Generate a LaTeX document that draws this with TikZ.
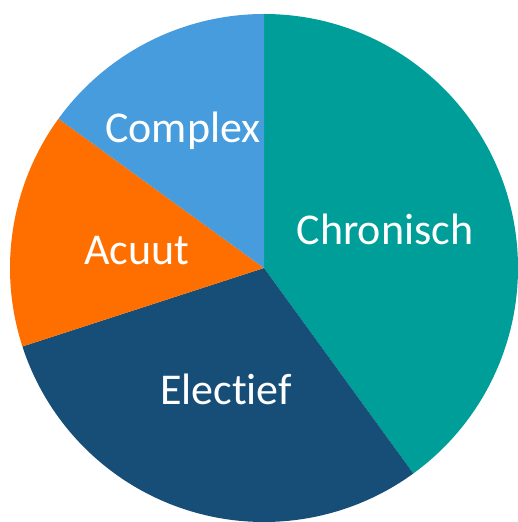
\documentclass[tikz,border=0pt]{standalone}
\usepackage{fontspec}
\setmainfont{Carlito}[Ligatures={NoCommon}]
\definecolor{cteal}{HTML}{009E99}
\definecolor{cdark}{HTML}{174E77}
\definecolor{corange}{HTML}{FF6F00}
\definecolor{clight}{HTML}{469CDD}
\begin{document}
\begin{tikzpicture}[x=1pt,y=1pt,
  lbl/.style={text=white,font=\fontsize{44}{50}\selectfont,anchor=base,inner sep=0pt}]
\useasboundingbox (0,0) rectangle (518,522);
\coordinate (c) at (264,254);
\def\R{254}
\fill[cteal] (c) -- ++(90:\R) arc[start angle=90,end angle=-54,radius=\R] -- cycle;
\fill[cdark] (c) -- ++(-54:\R) arc[start angle=-54,end angle=-162,radius=\R] -- cycle;
\fill[corange] (c) -- ++(-162:\R) arc[start angle=-162,end angle=-216,radius=\R] -- cycle;
\fill[clight] (c) -- ++(144:\R) arc[start angle=144,end angle=90,radius=\R] -- cycle;
\node[lbl] (chron) at (385,277) {Chronisch};
\node[lbl] (compl) at (183,379) {Complex};
\node[lbl] (acuut) at (137,257) {Acuut};
\node[lbl] (elect) at (226,117) {Electief};
\end{tikzpicture}
\end{document}
